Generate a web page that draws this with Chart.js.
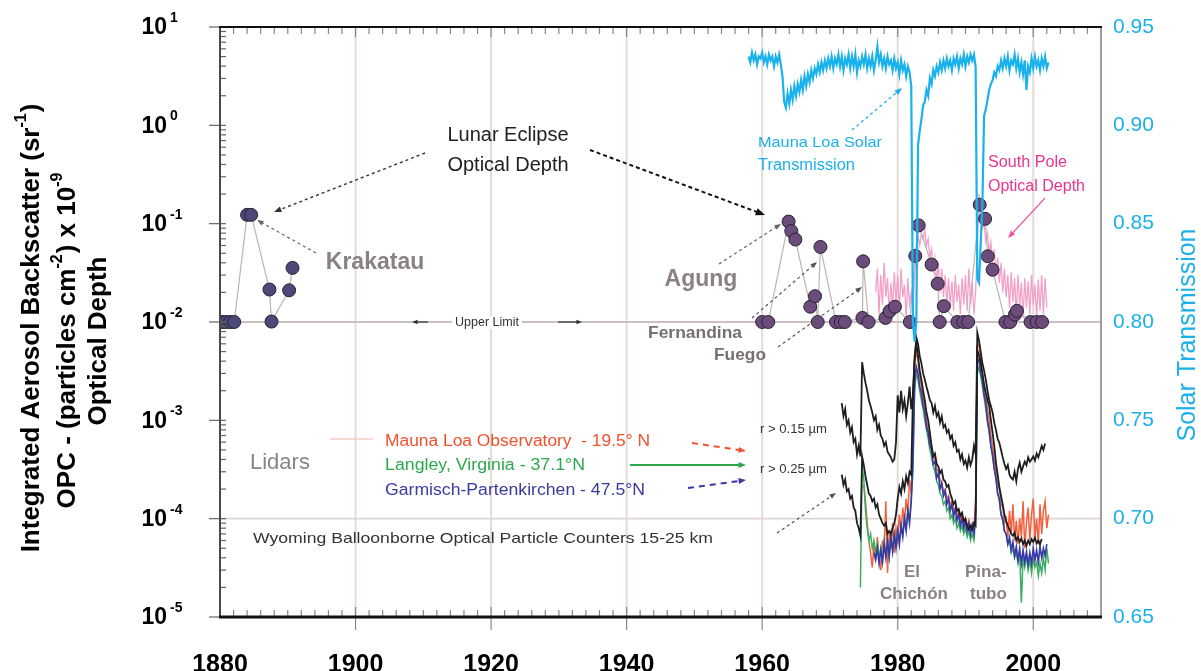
<!DOCTYPE html>
<html><head><meta charset="utf-8">
<style>html,body{margin:0;padding:0;background:#fff;overflow:hidden}#wrap{width:1201px;height:671px}</style>
<script src="https://cdn.jsdelivr.net/npm/chart.js@4.4.1/dist/chart.umd.min.js"></script>
</head><body><div id="wrap"><canvas id="c" width="1201" height="671"></canvas></div>
<script>
// ---------- DATA ----------
const xTicks = [1880, 1900, 1920, 1940, 1960, 1980, 2000];
const yDecades = [-5, -4, -3, -2, -1, 0, 1];
const rightTicks = [0.65, 0.70, 0.75, 0.80, 0.85, 0.90, 0.95];

// Lunar eclipse optical depth (Krakatau era)
const eclipseEarlyYears = [1880.3, 1880.9, 1881.5, 1882.1, 1884.0, 1884.6, 1887.3, 1887.6, 1890.2, 1890.7];
const eclipseEarlyValues = [0.01, 0.01, 0.01, 0.01, 0.123, 0.123, 0.0214, 0.0101, 0.021, 0.0355];

// Lunar eclipse optical depth (modern)
const eclipseModernYears = [1960.0, 1960.9, 1963.9, 1964.3, 1964.9, 1967.1, 1967.8, 1968.2, 1968.6, 1970.9, 1971.6, 1972.2,
  1974.8, 1974.9, 1975.7, 1978.2, 1978.8, 1979.6, 1981.8, 1982.6, 1983.1, 1985.0, 1985.9, 1986.2, 1986.8, 1988.8,
  1989.7, 1990.4, 1992.1, 1992.9, 1993.3, 1994.0, 1995.9, 1996.6, 1997.3, 1997.6, 1999.6, 2000.5, 2001.3];
const eclipseModernValues = [0.01, 0.01, 0.105, 0.084, 0.069, 0.0143, 0.0183, 0.01, 0.058, 0.01, 0.01, 0.01,
  0.011, 0.0414, 0.01, 0.011, 0.0129, 0.0143, 0.01, 0.047, 0.096, 0.0384, 0.0245, 0.01, 0.0145, 0.01,
  0.01, 0.01, 0.156, 0.112, 0.0466, 0.034, 0.01, 0.01, 0.0119, 0.013, 0.01, 0.01, 0.01];

// Mauna Loa solar transmission (quarterly from 1958.0)
const solarStart = 1958.0;
const solarValues = [
  0.935,0.932,0.937,0.933, 0.936,0.931,0.935,0.934, 0.937,0.932,0.935,0.931, 0.936,0.933,0.935,0.930,
  0.935,0.932,0.936,0.931, 0.925,0.912,0.909,0.916, 0.911,0.918,0.913,0.920, 0.915,0.921,0.917,0.923,
  0.918,0.925,0.920,0.926, 0.922,0.928,0.924,0.929, 0.926,0.931,0.927,0.932, 0.928,0.933,0.929,0.934,
  0.930,0.935,0.929,0.934, 0.931,0.936,0.930,0.935, 0.928,0.934,0.931,0.936, 0.929,0.935,0.930,0.936,
  0.927,0.933,0.930,0.935, 0.931,0.936,0.929,0.934, 0.930,0.935,0.928,0.933, 0.940,0.932,0.936,0.930,
  0.934,0.929,0.935,0.931, 0.933,0.928,0.934,0.929, 0.932,0.926,0.933,0.928, 0.931,0.925,0.930,0.927,
  0.920,0.800,0.790,0.800, 0.890,0.897,0.903,0.910, 0.912,0.918,0.915,0.924, 0.921,0.928,0.925,0.930,
  0.927,0.932,0.928,0.933, 0.929,0.934,0.930,0.933, 0.928,0.934,0.931,0.935, 0.929,0.934,0.931,0.936,
  0.930,0.935,0.932,0.936, 0.933,0.936,0.930,0.822, 0.820,0.840,0.860,0.905, 0.908,0.913,0.918,0.921,
  0.923,0.927,0.925,0.930, 0.928,0.933,0.929,0.934, 0.930,0.935,0.928,0.933, 0.931,0.936,0.929,0.934,
  0.927,0.932,0.926,0.933, 0.918,0.930,0.927,0.934, 0.929,0.935,0.930,0.933, 0.928,0.934,0.930,0.935,
  0.929,0.932];

// South Pole optical depth (quarterly from 1976.75)
const southPoleStart = 1976.75;
const southPoleValues = [
  0.020,
  0.035,0.012,0.030,0.015, 0.040,0.018,0.028,0.012, 0.025,0.014,0.032,0.016, 0.030,0.013,0.035,0.018,
  0.024,0.011,0.028,0.015, 0.020,0.012,0.030,0.050, 0.075,0.060,0.080,0.070, 0.085,0.060,0.070,0.045,
  0.055,0.035,0.045,0.025, 0.040,0.020,0.035,0.018, 0.030,0.015,0.028,0.014, 0.026,0.013,0.030,0.016,
  0.024,0.012,0.028,0.015, 0.030,0.013,0.035,0.015, 0.025,0.012,0.020,0.060, 0.200,0.120,0.090,0.100,
  0.065,0.080,0.050,0.065, 0.040,0.055,0.030,0.045, 0.025,0.040,0.020,0.035, 0.018,0.030,0.014,0.032,
  0.016,0.028,0.012,0.030, 0.015,0.025,0.011,0.028, 0.014,0.026,0.012,0.030, 0.015,0.024,0.011,0.027,
  0.013,0.030,0.012,0.028, 0.014];

// Lidar integrated backscatter (quarterly)
const lidarMaunaLoaStart = 1975.0;
const lidarMaunaLoa = [
  2.2e-4,1.5e-4,9e-5,6e-5, 4.5e-5,3.2e-5,5.5e-5,3.8e-5, 6.5e-5,4.0e-5,3.0e-5,6.0e-5, 4.5e-5,1.5e-4,2.8e-5,7.0e-5,
  5.0e-5,9.0e-5,4.5e-5,8.0e-5, 6.0e-5,1.1e-4,7.0e-5,1.3e-4, 9.0e-5,1.6e-4,1.1e-4,2.5e-4, 1.8e-4,6.0e-4,4.0e-3,5.0e-3,
  4.0e-3,2.8e-3,2.2e-3,1.7e-3, 1.3e-3,1.0e-3,8.0e-4,6.5e-4, 5.5e-4,4.5e-4,4.0e-4,3.2e-4, 3.0e-4,2.5e-4,2.3e-4,1.9e-4,
  2.0e-4,1.6e-4,1.7e-4,1.35e-4, 1.5e-4,1.2e-4,1.3e-4,1.05e-4, 1.2e-4,9.5e-5,1.1e-4,8.5e-5, 1.0e-4,8.0e-5,9.5e-5,7.5e-5,
  9.0e-5,8.0e-5,1.5e-4,5.5e-3, 6.0e-3,4.0e-3,3.0e-3,2.2e-3, 1.8e-3,1.3e-3,1.0e-3,7.0e-4, 5.5e-4,4.0e-4,3.0e-4,2.2e-4,
  2.0e-4,1.4e-4,1.3e-4,9.0e-5, 1.0e-4,6.5e-5,1.2e-4,7.0e-5, 1.4e-4,6.0e-5,9.5e-5,5.5e-5, 1.0e-4,6.5e-5,1.5e-4,5.0e-5,
  9.0e-5,1.3e-4,6.0e-5,1.1e-4, 1.6e-4,6.5e-5,1.0e-4,5.5e-5, 1.4e-4,7.0e-5,1.2e-4,1.5e-4, 8.0e-5,1.1e-4];
const lidarLangleyStart = 1974.5;
const lidarLangley = [
  2.0e-5,3.5e-4,
  2.5e-4,1.2e-4,8.0e-5,6.0e-5, 7.0e-5,5.0e-5,6.0e-5,4.5e-5, 5.5e-5,4.0e-5,5.0e-5,3.5e-5, 6.0e-5,4.5e-5,5.5e-5,4.0e-5,
  6.5e-5,5.0e-5,7.0e-5,5.5e-5, 7.5e-5,6.0e-5,8.5e-5,7.0e-5, 1.0e-4,8.0e-5,1.2e-4,1.0e-4, 1.6e-4,3.0e-4,2.0e-3,3.0e-3,
  2.6e-3,2.0e-3,1.6e-3,1.3e-3, 1.0e-3,8.0e-4,6.5e-4,5.0e-4, 4.2e-4,3.4e-4,3.0e-4,2.4e-4, 2.2e-4,1.8e-4,1.7e-4,1.4e-4,
  1.5e-4,1.2e-4,1.3e-4,1.0e-4, 1.1e-4,9.0e-5,1.0e-4,8.0e-5, 9.0e-5,7.5e-5,8.5e-5,7.0e-5, 8.0e-5,6.5e-5,7.5e-5,6.0e-5,
  7.0e-5,6.0e-5,1.0e-4,3.0e-3, 3.5e-3,2.8e-3,2.2e-3,1.7e-3, 1.3e-3,9.5e-4,7.5e-4,5.5e-4, 4.2e-4,3.2e-4,2.5e-4,1.8e-4,
  1.5e-4,1.1e-4,9.5e-5,7.5e-5, 7.0e-5,5.5e-5,6.0e-5,4.5e-5, 5.0e-5,4.0e-5,4.5e-5,3.5e-5, 4.5e-5,1.4e-5,4.0e-5,3.2e-5,
  4.2e-5,3.0e-5,3.8e-5,2.8e-5, 4.0e-5,3.2e-5,3.6e-5,2.6e-5, 3.5e-5,2.8e-5,4.0e-5,3.0e-5, 5.0e-5,3.5e-5];
const lidarGarmischStart = 1976.5;
const lidarGarmisch = [
  4.5e-5,3.8e-5,
  5.0e-5,3.5e-5,4.8e-5,3.6e-5, 5.5e-5,4.0e-5,6.0e-5,4.2e-5, 6.5e-5,4.6e-5,6.8e-5,5.0e-5, 7.5e-5,5.5e-5,8.5e-5,6.5e-5,
  1.0e-4,7.5e-5,1.2e-4,9.0e-5, 1.5e-4,4.0e-4,2.5e-3,3.5e-3, 3.0e-3,2.2e-3,1.9e-3,1.4e-3, 1.2e-3,8.5e-4,7.5e-4,5.5e-4,
  5.0e-4,3.6e-4,3.8e-4,2.6e-4, 2.9e-4,2.0e-4,2.3e-4,1.7e-4, 1.9e-4,1.4e-4,1.6e-4,1.2e-4, 1.4e-4,1.05e-4,1.25e-4,9.5e-5,
  1.1e-4,8.5e-5,1.0e-4,8.0e-5, 9.5e-5,7.5e-5,9.0e-5,7.0e-5, 8.5e-5,7.0e-5,1.2e-4,3.8e-3, 4.2e-3,3.0e-3,2.6e-3,1.8e-3,
  1.5e-3,1.0e-3,8.0e-4,5.5e-4, 4.5e-4,3.2e-4,2.6e-4,1.8e-4, 1.6e-4,1.1e-4,1.0e-4,7.5e-5, 7.0e-5,5.5e-5,6.5e-5,4.8e-5,
  5.8e-5,4.2e-5,5.2e-5,3.8e-5, 5.0e-5,3.5e-5,4.8e-5,3.6e-5, 4.6e-5,3.4e-5,4.5e-5,3.5e-5, 5.0e-5,3.8e-5,4.8e-5,3.6e-5,
  5.2e-5,4.0e-5,5.0e-5,4.2e-5, 5.5e-5];

// Wyoming balloonborne OPC column (quarterly from 1971.75)
const opcStart = 1971.75;
const opcR015 = [
  1.5e-3,
  1.1e-3,1.3e-3,9.0e-4,1.0e-3, 7.5e-4,8.5e-4,6.0e-4,6.5e-4, 4.5e-4,5.5e-4,4.3e-4,3.9e-3, 3.0e-3,2.4e-3,2.0e-3,1.6e-3,
  1.4e-3,1.2e-3,1.0e-3,1.1e-3, 8.0e-4,9.0e-4,7.0e-4,6.5e-4, 5.5e-4,6.0e-4,4.8e-4,4.5e-4, 4.2e-4,3.8e-4,4.0e-4,6.0e-4,
  1.8e-3,1.2e-3,2.0e-3,1.3e-3, 1.6e-3,1.1e-3,1.5e-3,2.2e-3, 1.3e-3,1.8e-3,4.0e-3,7.0e-3, 6.0e-3,4.5e-3,3.8e-3,3.0e-3,
  2.6e-3,2.2e-3,1.9e-3,1.6e-3, 1.5e-3,1.2e-3,1.4e-3,1.1e-3, 1.2e-3,9.5e-4,1.1e-3,8.5e-4, 9.0e-4,7.5e-4,8.0e-4,6.5e-4,
  7.0e-4,5.5e-4,6.0e-4,4.8e-4, 5.0e-4,4.0e-4,4.5e-4,3.6e-4, 3.9e-4,3.3e-4,4.2e-4,3.5e-4, 4.0e-4,5.5e-4,4.5e-4,7.8e-3,
  6.5e-3,5.0e-3,3.8e-3,3.2e-3, 2.6e-3,2.0e-3,1.6e-3,1.4e-3, 1.2e-3,9.5e-4,8.0e-4,6.5e-4, 5.9e-4,5.0e-4,4.2e-4,3.6e-4,
  3.2e-4,3.5e-4,2.8e-4,2.6e-4, 2.5e-4,3.0e-4,2.4e-4,3.2e-4, 3.7e-4,3.0e-4,3.4e-4,3.8e-4, 3.5e-4,4.2e-4,3.8e-4,4.0e-4,
  4.3e-4,3.9e-4,4.6e-4,4.2e-4, 4.8e-4,5.5e-4,5.0e-4,5.8e-4];
const opcR025 = [
  2.8e-4,
  2.2e-4,2.5e-4,1.9e-4,2.0e-4, 1.6e-4,1.7e-4,1.3e-4,1.2e-4, 9.0e-5,8.0e-5,6.7e-5,4.3e-4, 3.5e-4,2.7e-4,2.2e-4,1.8e-4,
  1.7e-4,1.5e-4,1.6e-4,1.3e-4, 1.4e-4,1.1e-4,1.0e-4,9.0e-5, 8.5e-5,9.0e-5,7.0e-5,7.5e-5, 7.0e-5,8.0e-5,9.0e-5,1.1e-4,
  1.6e-4,2.1e-4,1.8e-4,2.4e-4, 2.0e-4,2.7e-4,2.3e-4,3.0e-4, 2.8e-4,1.8e-3,4.5e-3,6.2e-3, 4.5e-3,3.2e-3,2.6e-3,2.0e-3,
  1.6e-3,1.2e-3,1.0e-3,7.5e-4, 5.5e-4,4.3e-4,4.6e-4,3.6e-4, 3.4e-4,2.9e-4,3.1e-4,2.5e-4, 2.4e-4,2.1e-4,2.2e-4,1.8e-4,
  1.6e-4,1.4e-4,1.5e-4,1.2e-4, 1.25e-4,1.07e-4,1.15e-4,9.5e-5, 1.0e-4,8.5e-5,7.8e-5,8.5e-5, 7.8e-5,9.0e-5,8.5e-5,5.2e-3,
  4.6e-3,3.9e-3,3.0e-3,2.3e-3, 1.9e-3,1.6e-3,1.4e-3,1.0e-3, 7.5e-4,5.5e-4,3.7e-4,2.8e-4, 2.1e-4,1.7e-4,1.4e-4,1.1e-4,
  9.5e-5,8.5e-5,7.8e-5,7.0e-5, 6.7e-5,7.2e-5,6.0e-5,6.5e-5, 5.8e-5,6.3e-5,5.5e-5,6.0e-5, 5.3e-5,6.0e-5,5.5e-5,6.2e-5,
  5.8e-5,6.4e-5,5.6e-5,6.0e-5, 5.5e-5,6.2e-5];

// ---------- HELPERS ----------
const FONT = '"Liberation Sans", Arial, Helvetica, sans-serif';
const quarterly = (start, vals) => vals.map((v, i) => ({ x: start + i * 0.25, y: v }));
const paired = (xs, ys) => xs.map((x, i) => ({ x, y: ys[i] }));

function txt(ctx, s, x, y, o) {
  ctx.save();
  ctx.font = o.font; ctx.fillStyle = o.color; ctx.textBaseline = o.base || 'middle';
  const w = ctx.measureText(s).width;
  if (o.width) {
    ctx.translate(x, y); ctx.scale(o.width / w, 1); ctx.textAlign = 'left';
    ctx.fillText(s, o.align === 'center' ? -w / 2 : 0, 0);
  } else { ctx.textAlign = o.align || 'left'; ctx.fillText(s, x, y); }
  ctx.restore();
}
function arrow(ctx, x1, y1, x2, y2, o) {
  ctx.save();
  ctx.strokeStyle = o.color; ctx.lineWidth = o.w || 1.3; ctx.setLineDash(o.dash || []);
  const a = Math.atan2(y2 - y1, x2 - x1); const h = o.head === undefined ? 8 : o.head;
  ctx.beginPath(); ctx.moveTo(x1, y1); ctx.lineTo(x2 - Math.cos(a) * h * 0.6, y2 - Math.sin(a) * h * 0.6); ctx.stroke();
  if (h > 0) {
    ctx.setLineDash([]); ctx.fillStyle = o.color; ctx.beginPath(); ctx.moveTo(x2, y2);
    ctx.lineTo(x2 - h * Math.cos(a - 0.38), y2 - h * Math.sin(a - 0.38));
    ctx.lineTo(x2 - h * Math.cos(a + 0.38), y2 - h * Math.sin(a + 0.38)); ctx.closePath(); ctx.fill();
  }
  ctx.restore();
}
function rich(ctx, segs, cx, cy, base, sup, color) {
  ctx.save(); ctx.translate(cx, cy); ctx.rotate(-Math.PI / 2);
  ctx.fillStyle = color; ctx.textBaseline = 'middle'; ctx.textAlign = 'left';
  let total = 0;
  segs.forEach(s => { ctx.font = s.sup ? sup : base; s.w = ctx.measureText(s.t).width; total += s.w + (s.sup ? 1 : 0); });
  let x = -total / 2;
  segs.forEach(s => { ctx.font = s.sup ? sup : base; ctx.fillText(s.t, x, s.sup ? -10 : 0); x += s.w + (s.sup ? 1 : 0); });
  ctx.restore();
}

const deco = {
  id: 'deco',
  beforeDatasetsDraw(chart) {
    const { ctx, chartArea: a, scales: { x, y } } = chart;
    ctx.save();
    ctx.strokeStyle = '#e3dbd8'; ctx.lineWidth = 2;
    xTicks.slice(1).forEach(v => { const px = x.getPixelForValue(v); ctx.beginPath(); ctx.moveTo(px, a.top); ctx.lineTo(px, a.bottom); ctx.stroke(); });
    ctx.strokeStyle = '#cbc0bc'; ctx.lineWidth = 2;
    let py = y.getPixelForValue(1e-2); ctx.beginPath(); ctx.moveTo(a.left, py); ctx.lineTo(a.right, py); ctx.stroke();
    ctx.strokeStyle = '#ddd5d1'; ctx.lineWidth = 1.6;
    py = y.getPixelForValue(1e-4); ctx.beginPath(); ctx.moveTo(a.left, py); ctx.lineTo(a.right, py); ctx.stroke();
    ctx.restore();
  },
  afterDatasetsDraw(chart) {
    const { ctx, chartArea: a, scales: { x, y, y2 } } = chart;
    ctx.save();
    // ticks top & bottom
    ctx.strokeStyle = '#8f8580'; ctx.lineWidth = 1.2;
    for (let yr = 1882; yr < 2010; yr += 2) {
      const px = x.getPixelForValue(yr); const major = (yr % 20 === 0);
      ctx.beginPath(); ctx.moveTo(px, a.top); ctx.lineTo(px, a.top + (major ? 10 : 7)); ctx.stroke();
      ctx.beginPath(); ctx.moveTo(px, a.bottom + (major ? 13 : 0)); ctx.lineTo(px, a.bottom - (major ? 10 : 7)); ctx.stroke();
    }
    // left ticks
    ctx.strokeStyle = '#666'; ctx.lineWidth = 1.2;
    yDecades.forEach(e => {
      const py = y.getPixelForValue(Math.pow(10, e));
      ctx.beginPath(); ctx.moveTo(a.left - 11, py); ctx.lineTo(a.left + 6, py); ctx.stroke();
      if (e < 1) for (let m = 2; m <= 9; m++) {
        const pm = y.getPixelForValue(m * Math.pow(10, e));
        ctx.beginPath(); ctx.moveTo(a.left, pm); ctx.lineTo(a.left + 6, pm); ctx.stroke();
      }
    });
    // frame
    ctx.lineCap = 'butt';
    ctx.strokeStyle = '#a59a96'; ctx.lineWidth = 2;
    ctx.beginPath(); ctx.moveTo(a.right, a.top); ctx.lineTo(a.right, a.bottom); ctx.stroke();
    ctx.strokeStyle = '#4a4a4a'; ctx.lineWidth = 2;
    ctx.beginPath(); ctx.moveTo(a.left, a.top); ctx.lineTo(a.left, a.bottom); ctx.stroke();
    ctx.strokeStyle = '#111'; ctx.lineWidth = 2;
    ctx.beginPath(); ctx.moveTo(a.left - 1, a.top); ctx.lineTo(a.right + 1, a.top); ctx.stroke();
    ctx.lineWidth = 3;
    ctx.beginPath(); ctx.moveTo(a.left - 1, a.bottom); ctx.lineTo(a.right + 1, a.bottom); ctx.stroke();

    // tick labels
    xTicks.forEach(v => txt(ctx, String(v), x.getPixelForValue(v), 672, { font: 'bold 25px ' + FONT, color: '#000', align: 'center', base: 'alphabetic' }));
    yDecades.forEach(e => {
      const py = y.getPixelForValue(Math.pow(10, e));
      txt(ctx, '10', 167, py + 1, { font: 'bold 23px ' + FONT, color: '#000', align: 'right' });
      txt(ctx, e < 0 ? '-' + (-e) : String(e), 170, py - 9, { font: 'bold 14px ' + FONT, color: '#000' });
    });
    rightTicks.forEach(v => txt(ctx, v.toFixed(2), 1113, y2.getPixelForValue(v), { font: '21px ' + FONT, color: '#1cb0ea' }));

    // axis titles
    const B = 'bold 26px ' + FONT, S = 'bold 16px ' + FONT;
    rich(ctx, [{ t: 'Integrated Aerosol Backscatter (sr' }, { t: '-1', sup: 1 }, { t: ')' }], 32, 328, B, S, '#000');
    rich(ctx, [{ t: 'OPC - (particles cm' }, { t: '-2', sup: 1 }, { t: ') x 10' }, { t: '-9', sup: 1 }], 68, 340, B, S, '#000');
    rich(ctx, [{ t: 'Optical Depth' }], 99, 341, B, S, '#000');
    ctx.save(); ctx.translate(1188, 335); ctx.rotate(-Math.PI / 2);
    txt(ctx, 'Solar Transmission', 0, 0, { font: '25px ' + FONT, color: '#1cb0ea', align: 'center' });
    ctx.restore();

    // annotations
    const grey = '#8a8282';
    txt(ctx, 'Lunar Eclipse', 508, 135, { font: '20px ' + FONT, color: '#222', align: 'center' });
    txt(ctx, 'Optical Depth', 508, 165, { font: '20px ' + FONT, color: '#222', align: 'center' });
    arrow(ctx, 425, 153, 274, 212, { color: '#333', dash: [3, 3], w: 1.4 });
    arrow(ctx, 590, 150, 765, 215, { color: '#111', dash: [4, 3], w: 2, head: 10 });
    txt(ctx, 'Krakatau', 375, 263, { font: 'bold 23px ' + FONT, color: grey, align: 'center' });
    arrow(ctx, 316, 253, 257, 220, { color: '#666', dash: [3, 3], w: 1.2, head: 7 });
    txt(ctx, 'Agung', 701, 280, { font: 'bold 23px ' + FONT, color: grey, align: 'center' });
    arrow(ctx, 719, 264, 781, 224, { color: '#666', dash: [3, 3], w: 1.2, head: 7 });
    ctx.fillStyle = '#fff'; ctx.fillRect(452, 316, 70, 13);
    txt(ctx, 'Upper Limit', 487, 323, { font: '12px ' + FONT, color: '#333', align: 'center', width: 64 });
    arrow(ctx, 428, 322, 412, 322, { color: '#333', w: 1.2, head: 6 });
    arrow(ctx, 558, 322, 582, 322, { color: '#333', w: 1.2, head: 6 });
    txt(ctx, 'Fernandina', 648, 333, { font: 'bold 17px ' + FONT, color: '#767070', width: 94 });
    txt(ctx, 'Fuego', 714, 355, { font: 'bold 17px ' + FONT, color: '#767070', width: 52 });
    arrow(ctx, 752, 318, 817, 262, { color: '#555', dash: [3, 3], w: 1.2, head: 7 });
    arrow(ctx, 778, 347, 862, 287, { color: '#555', dash: [3, 3], w: 1.2, head: 7 });
    txt(ctx, 'Mauna Loa Solar', 758, 143, { font: '15px ' + FONT, color: '#1cb0ea', width: 124 });
    txt(ctx, 'Transmission', 758, 166, { font: '16px ' + FONT, color: '#1cb0ea', width: 97 });
    arrow(ctx, 852, 130, 902, 88, { color: '#1cb0ea', dash: [3, 3], w: 1.3, head: 8 });
    txt(ctx, 'South Pole', 988, 163, { font: '16px ' + FONT, color: '#e8348f', width: 79 });
    txt(ctx, 'Optical Depth', 988, 187, { font: '16px ' + FONT, color: '#e8348f', width: 97 });
    arrow(ctx, 1045, 198, 1008, 238, { color: '#ee5aa0', w: 1.2, head: 8 });
    txt(ctx, 'El', 912, 572, { font: 'bold 17px ' + FONT, color: grey, align: 'center' });
    txt(ctx, 'Chichón', 914, 594, { font: 'bold 17px ' + FONT, color: grey, align: 'center' });
    txt(ctx, 'Pina-', 965, 572, { font: 'bold 17px ' + FONT, color: grey });
    txt(ctx, 'tubo', 970, 594, { font: 'bold 17px ' + FONT, color: grey });
    txt(ctx, 'r > 0.15 µm', 760, 430, { font: '12px ' + FONT, color: '#333', width: 67 });
    txt(ctx, 'r > 0.25 µm', 760, 470, { font: '12px ' + FONT, color: '#333', width: 67 });
    arrow(ctx, 777, 533, 836, 493, { color: '#555', dash: [3, 3], w: 1.2, head: 7 });
    txt(ctx, 'Lidars', 250, 463, { font: '22px ' + FONT, color: '#8a8585' });
    ctx.strokeStyle = '#f7cdc2'; ctx.lineWidth = 1.5; ctx.beginPath(); ctx.moveTo(330, 439); ctx.lineTo(373, 439); ctx.stroke();
    txt(ctx, 'Mauna Loa Observatory  - 19.5° N', 385, 442, { font: '16px ' + FONT, color: '#f0502e', width: 265 });
    txt(ctx, 'Langley, Virginia - 37.1°N', 385, 466, { font: '16px ' + FONT, color: '#2ea84e', width: 200 });
    txt(ctx, 'Garmisch-Partenkirchen - 47.5°N', 385, 491, { font: '16px ' + FONT, color: '#3a3a9c', width: 260 });
    arrow(ctx, 692, 443, 746, 451, { color: '#f0502e', dash: [6, 5], w: 2, head: 8 });
    arrow(ctx, 630, 465, 746, 465, { color: '#2ea84e', w: 2, head: 8 });
    arrow(ctx, 688, 488, 746, 480, { color: '#3a3a9c', dash: [6, 5], w: 2, head: 8 });
    txt(ctx, 'Wyoming Balloonborne Optical Particle Counters 15-25 km', 253, 539, { font: '15px ' + FONT, color: '#333', width: 460 });
    ctx.restore();
  }
};

const line = (data, color, width, axis, order) => ({
  data, borderColor: color, borderWidth: width, pointRadius: 0, yAxisID: axis, order, tension: 0, fill: false
});

new Chart(document.getElementById('c'), {
  type: 'line',
  data: {
    datasets: [
      line(quarterly(solarStart, solarValues), '#1ab2ec', 2.2, 'y2', 0),
      Object.assign(line(paired(eclipseEarlyYears, eclipseEarlyValues), '#bdb3b3', 1.2, 'y', 1),
        { pointRadius: 6.5, pointBackgroundColor: '#4c4877', pointBorderColor: '#262233', pointBorderWidth: 1 }),
      Object.assign(line(paired(eclipseModernYears, eclipseModernValues), '#bdb3b3', 1.2, 'y', 2),
        { pointRadius: 6.5, pointBackgroundColor: '#6c4c7b', pointBorderColor: '#262233', pointBorderWidth: 1 }),
      line(quarterly(opcStart, opcR015), '#1e1e1e', 1.8, 'y', 3),
      line(quarterly(opcStart, opcR025), '#1e1e1e', 1.8, 'y', 4),
      line(quarterly(lidarGarmischStart, lidarGarmisch), '#3838a8', 1.6, 'y', 5),
      line(quarterly(lidarLangleyStart, lidarLangley), '#3aae62', 1.5, 'y', 6),
      line(quarterly(lidarMaunaLoaStart, lidarMaunaLoa), '#f2603e', 1.5, 'y', 7),
      line(quarterly(southPoleStart, southPoleValues), '#f3a0c8', 1.3, 'y', 8)
    ]
  },
  options: {
    responsive: false, animation: false, events: [],
    layout: { padding: { top: 27, left: 0, right: 0, bottom: 0 } },
    plugins: { legend: { display: false }, tooltip: { enabled: false } },
    scales: {
      x: { type: 'linear', position: 'bottom', min: 1880, max: 2010,
        ticks: { display: false, stepSize: 20 }, grid: { display: false }, border: { display: false },
        afterFit: s => { s.height = 54; } },
      y: { type: 'logarithmic', position: 'left', min: 1e-5, max: 10,
        ticks: { display: false }, grid: { display: false }, border: { display: false },
        afterFit: s => { s.width = 220; } },
      y2: { type: 'linear', position: 'right', min: 0.65, max: 0.95,
        ticks: { display: false, stepSize: 0.05 }, grid: { display: false }, border: { display: false },
        afterFit: s => { s.width = 100; } }
    }
  },
  plugins: [deco]
});
</script></body></html>
